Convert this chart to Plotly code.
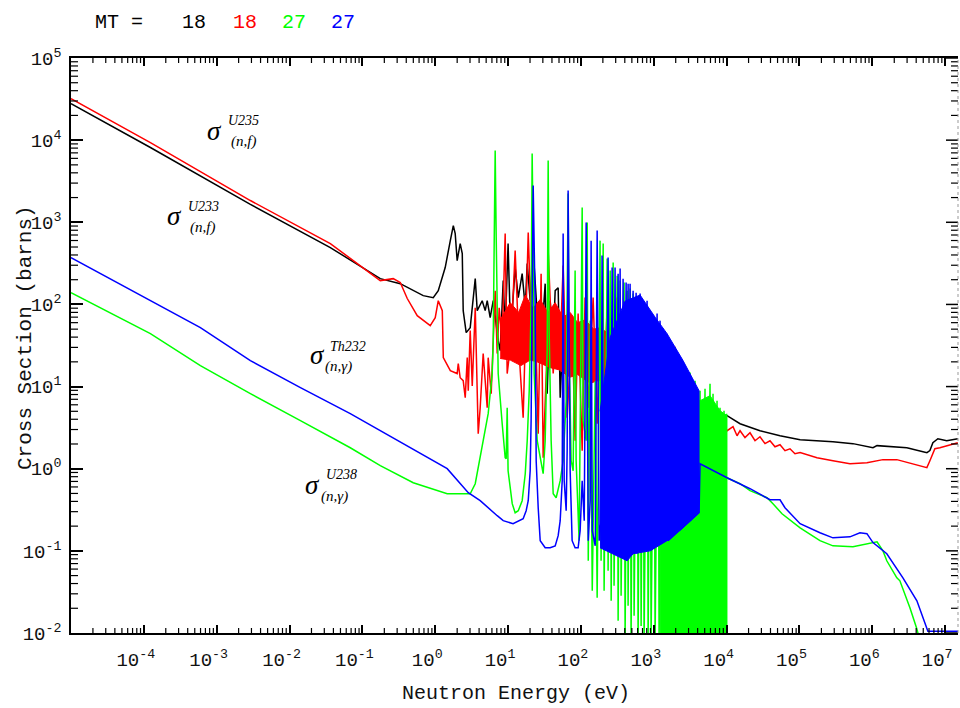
import math
import plotly.graph_objects as go

# ---------------- data (energy in eV, cross section in barns) ----------------
u235_fission = [
    (1.0e-5, 2.79e4), (1.23e-4, 8130), (2.9e-3, 1650), (3.63e-2, 492), (0.176, 206),
    (0.331, 179), (0.684, 128), (0.939, 121), (1.10, 147), (1.37, 281), (1.61, 598),
    (1.77, 912), (1.88, 728), (2.00, 341), (2.20, 550), (2.35, 416), (2.42, 84),
    (2.66, 45.4), (3.02, 52.2), (3.54, 206), (3.77, 84), (4.41, 111), (4.85, 84),
    (5.17, 111), (5.68, 69), (6.25, 111), (7.31, 36.2), (7.79, 27.4), (8.57, 195),
    (9.12, 48), (10.0, 550), (10.7, 63.5), (11.4, 84), (12.5, 281), (13.8, 121),
    (15.6, 237), (17.2, 91), (18.3, 314), (20.1, 111), (22.1, 452), (25.1, 77),
    (27.6, 111), (29.4, 52), (32.3, 179), (34.4, 8.2), (37.8, 111), (41.6, 36),
    (44.3, 147), (48.7, 160), (51.9, 7.33), (57.0, 48), (71.1, 31.5), (114, 36.2),
    (183, 31.5), (294, 27.4), (444, 27.4), (760, 15.6), (1521, 10.2), (2524, 7.76),
    (4182, 5.85), (5917, 5.09), (10140, 4.42), (15280, 3.53), (28710, 2.9),
    (54030, 2.52), (1.02e5, 2.26), (2.88e5, 2.13), (5.42e5, 2.02), (1.02e6, 1.80),
    (1.16e6, 1.91), (2.98e6, 1.80), (5.61e6, 1.57), (6.17e6, 1.66), (6.78e6, 2.07),
    (7.94e6, 2.32), (1.05e7, 2.19), (1.49e7, 2.32),
]

u233_fission = [
    (1.0e-5, 3.21e4), (1.23e-4, 9350), (2.9e-3, 1840), (3.63e-2, 550), (0.176, 195),
    (0.265, 206), (0.331, 185), (0.413, 118), (0.566, 73), (0.854, 55.2), (1.0, 69),
    (1.10, 111), (1.25, 84), (1.29, 22.5), (1.61, 15.6), (2.00, 14.4), (2.07, 19),
    (2.20, 12.8), (2.42, 11.8), (2.58, 7.33), (2.75, 22.5), (2.84, 8.9), (3.02, 48),
    (3.22, 10.2), (3.54, 91), (3.89, 2.67), (4.14, 5.53), (4.55, 25.2), (5.17, 5.53),
    (5.33, 22.5), (5.86, 8.2), (6.65, 147), (7.09, 25.2), (7.55, 91), (8.30, 36.2),
    (9.12, 728), (9.72, 14.4), (11.0, 36.2), (12.5, 452), (14.2, 25.2), (16.1, 4.18),
    (18.3, 237), (18.9, 750), (21.4, 25.2), (23.5, 91), (25.9, 2.67), (28.4, 237),
    (30.3, 1.36), (34.4, 29.8), (35.5, 452), (41.6, 14.4), (47.2, 91), (51.9, 29.8),
    (57.0, 297), (64.7, 4.18), (75.7, 58.4), (83.2, 2.19), (91.5, 77.3), (104, 1.66),
    (114, 121), (126, 5.53), (147, 121), (167, 3.53), (183, 77.3), (202, 5.53),
    (229, 91.4), (252, 14.4), (314, 121), (345, 22.5), (444, 52.2), (458, 17.0),
    (760, 20.7), (1960, 29.8), (2296, 8.91), (4316, 5.09), (8117, 3.34), (10140, 2.9),
    (12240, 3.25), (13900, 2.52), (15280, 2.9), (17870, 2.39), (20940, 2.74),
    (24530, 2.19), (28710, 2.45), (33650, 2.02), (39360, 2.19), (46130, 1.85),
    (54030, 1.96), (63230, 1.66), (74100, 1.75), (86700, 1.52), (1.02e5, 1.57),
    (1.74e5, 1.36), (2.88e5, 1.25), (4.93e5, 1.15), (8.43e5, 1.18), (1.40e6, 1.29),
    (2.17e6, 1.29), (3.61e6, 1.15), (5.61e6, 1.03), (6.17e6, 1.25), (7.22e6, 1.75),
    (8.46e6, 1.80), (1.36e7, 2.02), (1.49e7, 2.07),
]
u233_dense = [
    (7.79, 65), (10.7, 105), (14.0, 80), (17.2, 130), (22.0, 90), (27.6, 115), (35.0, 80),
    (44.3, 105), (57.0, 70), (71.1, 80), (90.0, 60), (114, 65), (150, 50), (183, 52),
    (250, 43), (294, 45), (444, 38),
    (444, 17), (300, 13), (183, 12), (134, 11), (90.0, 14), (71.1, 13), (50.0, 16),
    (37.8, 17), (25.0, 20), (20.1, 21), (15.0, 18), (10.7, 21), (7.79, 22),
]

u238_capture = [
    (1.0e-5, 139), (1.23e-4, 44.1), (5.97e-4, 18.0), (2.9e-3, 8.2), (1.41e-2, 3.85),
    (6.82e-2, 1.80), (0.176, 1.09), (0.499, 0.675), (1.46, 0.496), (3.02, 0.496),
    (3.54, 0.656), (4.14, 1.36), (4.41, 1.80), (4.85, 2.9), (5.33, 4.68), (6.05, 14.4),
    (6.25, 36.2), (6.45, 598), (6.65, 7470), (6.87, 651), (7.09, 36.2), (7.31, 14.4),
    (8.30, 3.53), (9.12, 1.36), (9.42, 1.32), (9.72, 5.53), (10.0, 0.945),
    (11.4, 0.375), (12.5, 0.291), (13.8, 0.308), (15.6, 0.408), (17.2, 0.869),
    (18.3, 2.19), (19.5, 8.91), (20.7, 91.4), (21.4, 6870), (22.1, 598), (22.8, 14.4),
    (25.1, 2.19), (27.6, 1.36), (30.3, 0.869), (32.3, 2.19), (34.4, 27.4), (35.5, 5650),
    (36.6, 48), (39.0, 2.19), (41.6, 0.496), (45.7, 0.443), (51.9, 0.714), (57.0, 1.25),
    (62.7, 6.73), (66.7, 2240), (68.9, 27.4), (73.4, 1.25), (78.2, 0.945), (83.2, 258),
    (85.9, 1.25), (94.4, 0.133), (104, 1510), (107, 3.85), (118, 2.19), (122, 991),
    (126, 0.0757), (134, 63.5), (143, 0.0327), (157, 11.8), (167, 0.0269), (183, 598),
    (189, 0.0757), (202, 550), (208, 0.0327), (229, 361), (236, 0.0573), (252, 258),
    (260, 0.0247), (277, 323), (285, 0.0376), (314, 224), (324, 0.0141), (345, 195),
    (356, 0.0284), (391, 185), (404, 0.008), (431, 147), (444, 0.0214), (473, 156),
    (488, 0.008), (520, 136), (537, 0.0162), (590, 111), (609, 0.008), (649, 102),
    (670, 0.0122), (713, 88.9), (736, 0.008), (809, 79.4), (836, 0.008), (890, 69.1),
    (918, 0.008), (1010, 63.5), (1042, 0.008), (1146, 50.7), (1183, 0.008),
    (1300, 41.7), (1343, 0.008), (1429, 38.3), (1476, 0.008), (1675, 34.3),
    (1728, 0.008), (1960, 29.8), (2023, 0.008), (2296, 21.9), (2367, 0.008),
    (2685, 18.0), (2773, 0.008), (3148, 14.8), (3251, 0.008), (3684, 11.8),
    (3802, 0.008), (4316, 8.91), (4457, 0.008), (5050, 9.43), (5212, 0.008),
    (5917, 10.8), (6109, 0.008), (6505, 8.2), (6714, 0.008), (7385, 6.73),
    (7621, 0.008), (8117, 5.53), (8376, 0.008), (9208, 5.09), (9506, 0.008),
    (10000, 4.68), (10000, 0.008), (10000, 0.777), (15280, 0.656), (20940, 0.54),
    (35810, 0.443), (43290, 0.375), (57540, 0.283), (1.02e5, 0.191), (1.91e5, 0.133),
    (2.88e5, 0.115), (5.42e5, 0.112), (8.43e5, 0.122), (1.16e6, 0.129), (1.40e6, 0.100),
    (1.58e6, 0.0757), (2.17e6, 0.047), (2.39e6, 0.0432), (3.28e6, 0.0203),
    (4.09e6, 0.0112), (4.5e6, 0.008),
]
u238_dense = [
    (1219, 1.66), (1841, 3.85), (3148, 6.73), (4316, 6.73), (5917, 7.75), (8117, 5.09),
    (10000, 4.42), (10000, 0.005), (1219, 0.005),
]

th232_capture = [
    (1.0e-5, 372), (1.23e-4, 111), (5.97e-4, 52.2), (2.9e-3, 20.7), (1.41e-2, 9.7),
    (6.82e-2, 4.68), (0.176, 2.9), (0.499, 1.75), (1.46, 1.0), (2.84, 0.51),
    (4.14, 0.408), (7.09, 0.268), (8.57, 0.233), (11.7, 0.214), (16.1, 0.246),
    (17.7, 0.308), (18.9, 0.408), (20.1, 0.945), (20.7, 3.85), (21.4, 111), (22.1, 2800),
    (23.5, 111), (24.3, 1.25), (25.9, 0.335), (27.6, 0.133), (32.3, 0.109), (37.8, 0.109),
    (44.3, 0.115), (48.7, 0.153), (51.9, 0.233), (55.3, 0.714), (57.0, 728), (58.9, 0.714),
    (62.7, 0.308), (64.7, 1.66), (66.7, 2430), (68.9, 27.4), (71.1, 0.945), (75.7, 0.133),
    (83.2, 0.109), (91.5, 0.109), (97.5, 0.176), (104, 0.714), (111, 0.233), (118, 991),
    (126, 0.133), (134, 0.408), (138, 598), (143, 0.176), (157, 0.115), (167, 792),
    (178, 0.133), (189, 0.233), (195, 393), (208, 0.115), (222, 0.176), (236, 372),
    (252, 0.106), (268, 281), (277, 0.133), (294, 281), (304, 0.115), (324, 237),
    (334, 0.1), (345, 273), (356, 0.0871), (379, 206), (391, 0.1), (417, 185),
    (431, 0.0757), (444, 179), (458, 0.0871), (473, 179), (488, 0.0922), (520, 147),
    (537, 0.0922), (572, 139), (590, 0.0922), (649, 136), (670, 0.1), (713, 111),
    (736, 0.1), (809, 111), (836, 0.1), (890, 84), (918, 0.1), (978, 73.1),
    (1010, 0.106), (1110, 77.3), (1146, 0.115), (1219, 63.5), (1259, 0.122),
    (1343, 50.7), (1384, 0.133), (1521, 44.1), (1571, 0.133), (4182, 0.291),
    (4316, 1.15), (10140, 0.777), (20940, 0.571), (39360, 0.419), (54030, 0.419),
    (63230, 0.335), (1.02e5, 0.214), (1.91e5, 0.166), (2.88e5, 0.144), (4.93e5, 0.148),
    (6.76e5, 0.166), (8.43e5, 0.162), (1.02e6, 0.126), (1.58e6, 0.0922), (2.63e6, 0.047),
    (4.09e6, 0.0247), (5.61e6, 0.0116), (5.79e6, 0.0105), (1.5e7, 0.0105),
]
th232_dense = [
    (183, 5.0), (252, 40), (404, 110), (649, 130), (1042, 70), (1521, 44.1),
    (2524, 20.7), (3928, 9.7), (4182, 8.91), (4182, 0.291), (2524, 0.191), (1521, 0.133),
    (890, 0.1), (520, 0.0922), (431, 0.0757), (183, 0.109),
]

x_decades = [-4, -3, -2, -1, 0, 1, 2, 3, 4, 5, 6, 7]
y_decades = [-2, -1, 0, 1, 2, 3, 4, 5]
header_items = [("MT =", "#000000"), ("18", "#000000"), ("18", "#FF0000"),
                ("27", "#00FF00"), ("27", "#0000FF")]

# ---------------- figure ----------------
W, H = 960, 708
ML, MR, MT_, MB = 71, 2, 58, 75
PW, PH = W - ML - MR, H - MT_ - MB
XR = (-5.0, 7.176)
YR = (-2.0, 5.0)


def px(xp, yp):
    return (xp - ML) / PW, (H - MB - yp) / PH


def unzip(pairs):
    return [p[0] for p in pairs], [p[1] for p in pairs]


fig = go.Figure()


def add_line(pairs, color):
    x, y = unzip(pairs)
    fig.add_trace(go.Scatter(x=x, y=y, mode="lines", showlegend=False, hoverinfo="skip",
                             line=dict(color=color, width=1.5)))


def add_band(pairs, color):
    x, y = unzip(pairs)
    fig.add_trace(go.Scatter(x=x, y=y, mode="lines", fill="toself", fillcolor=color,
                             showlegend=False, hoverinfo="skip",
                             line=dict(color=color, width=1)))


add_line(u235_fission, "#000000")
add_band(u233_dense, "#FF0000")
add_line(u233_fission, "#FF0000")
add_band(u238_dense, "#00FF00")
add_line(u238_capture, "#00FF00")
add_band(th232_dense, "#0000FF")
add_line(th232_capture, "#0000FF")

tickfont = dict(family="Liberation Mono", size=19, color="#111111")

fig.update_xaxes(
    type="log", range=list(XR), showgrid=False, zeroline=False, automargin=False,
    showline=True, linecolor="#000000", linewidth=1.5, mirror="ticks",
    ticks="inside", ticklen=8, tickwidth=1.5, tickcolor="#000000",
    tickmode="array", tickvals=[10.0 ** k for k in x_decades],
    ticktext=[f"10<sup>{k}</sup>" for k in x_decades],
    tickfont=tickfont, ticklabelstandoff=8, ticklabelshift=-8,
)
fig.update_yaxes(
    type="log", range=list(YR), showgrid=False, zeroline=False, automargin=False,
    showline=True, linecolor="#000000", linewidth=1.5, mirror=False,
    ticks="inside", ticklen=12, tickwidth=1.5, tickcolor="#000000",
    tickmode="array", tickvals=[10.0 ** k for k in y_decades],
    ticktext=[f"10<sup>{k}</sup>" for k in y_decades],
    tickfont=tickfont, ticklabelstandoff=4,
)


def xfrac(v):
    return (math.log10(v) - XR[0]) / (XR[1] - XR[0])


def yfrac(v):
    return (math.log10(v) - YR[0]) / (YR[1] - YR[0])


# minor ticks (and right-hand ticks) drawn as short line shapes in paper coordinates
shapes = []
tick_line = dict(color="#000000", width=1.2)
x_minor = [m * 10.0 ** k for k in range(-5, 8) for m in range(2, 10)]
y_minor = [m * 10.0 ** k for k in range(-2, 5) for m in range(2, 10)]
for v in x_minor:
    f = xfrac(v)
    if 0 < f < 1:
        shapes.append(dict(type="line", xref="paper", yref="paper", x0=f, x1=f,
                           y0=0, y1=5 / PH, line=tick_line))
        shapes.append(dict(type="line", xref="paper", yref="paper", x0=f, x1=f,
                           y0=1, y1=1 - 5 / PH, line=tick_line))
for v in y_minor:
    f = yfrac(v)
    shapes.append(dict(type="line", xref="paper", yref="paper", x0=0, x1=7 / PW,
                       y0=f, y1=f, line=tick_line))
    shapes.append(dict(type="line", xref="paper", yref="paper", x0=1, x1=1 - 7 / PW,
                       y0=f, y1=f, line=tick_line))
for k in y_decades:
    f = yfrac(10.0 ** k)
    shapes.append(dict(type="line", xref="paper", yref="paper", x0=1, x1=1 - 12 / PW,
                       y0=f, y1=f, line=dict(color="#000000", width=1.5)))
shapes.append(dict(type="line", xref="paper", yref="paper", x0=1, x1=1, y0=0, y1=1,
                   line=dict(color="#999999", width=1, dash="dot")))

annotations = []


def note(xp, yp, text, font, **kw):
    a, b = px(xp, yp)
    annotations.append(dict(x=a, y=b, xref="paper", yref="paper", showarrow=False,
                            xanchor="center", yanchor="middle", text=text, font=font, **kw))


mono = "Liberation Mono"
serif = "Liberation Serif"
# axis titles
note(516, 693, "Neutron Energy (eV)", dict(family=mono, size=20, color="#111111"))
note(25, 338, "Cross Section (barns)", dict(family=mono, size=21, color="#111111"),
     textangle=-90)
# header
header_x = [119, 194, 245, 294, 343]
for (txt, col), hx in zip(header_items, header_x):
    note(hx, 22, txt, dict(family=mono, size=20, color=col))

# sigma labels: (sigma centre, superscript text/centre, subscript text/centre)
sigma_labels = [
    ((214, 131), ("U235", 243, 121), ("(n,f)", 243, 141)),
    ((174, 216), ("U233", 203, 206), ("(n,f)", 202, 228)),
    ((317, 355), ("Th232", 348, 346), ("(n,γ)", 338, 366)),
    ((312, 485), ("U238", 341, 474), ("(n,γ)", 334, 496)),
]
for (sx, sy), (sup, ux, uy), (sub, bx, by) in sigma_labels:
    note(sx, sy, "<i>σ</i>", dict(family=serif, size=27, color="#000000"))
    note(ux, uy, f"<i>{sup}</i>", dict(family=serif, size=14, color="#000000"))
    note(bx, by, f"<i>{sub}</i>", dict(family=serif, size=15, color="#000000"))

fig.update_layout(
    width=W, height=H, margin=dict(l=ML, r=MR, t=MT_, b=MB, pad=0, autoexpand=False),
    paper_bgcolor="#FFFFFF", plot_bgcolor="#FFFFFF",
    annotations=annotations, shapes=shapes, showlegend=False,
)

fig.write_html("out.html", config={"displayModeBar": False},
               post_script="document.body.style.margin='0px';document.body.style.padding='0px';")
